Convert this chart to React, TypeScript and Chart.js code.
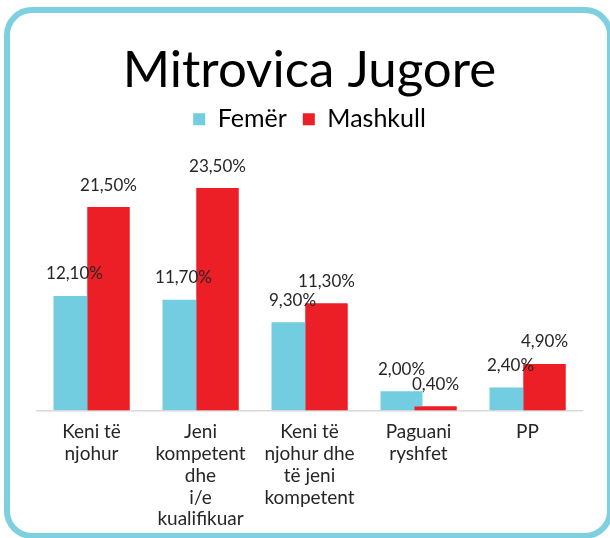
import React, { useEffect, useRef } from "react";
import { Chart, registerables } from "chart.js";

Chart.register(...registerables);

const TITLE = "Mitrovica Jugore";
const CATEGORIES: string[][] = [
  ["Keni të", "njohur"],
  ["Jeni", "kompetent", "dhe", "i/e", "kualifikuar"],
  ["Keni të", "njohur dhe", "të jeni", "kompetent"],
  ["Paguani", "ryshfet"],
  ["PP"],
];
const SERIES_NAMES = ["Femër", "Mashkull"];
const FEMER = [12.1, 11.7, 9.3, 2.0, 2.4];
const MASHKULL = [21.5, 23.5, 11.3, 0.4, 4.9];
const Y_MAX = 28.4;

const CYAN = "#72CDE0";
const RED = "#EC1F26";
const FONT = "Lato";
const CANVAS_H = 541;

export default function App() {
  const ref = useRef<HTMLCanvasElement | null>(null);

  useEffect(() => {
    if (!ref.current) return;
    const overlayPlugin = {
      id: "overlay",
      afterDatasetsDraw(chart: any) {
        const ctx = chart.ctx;
        // red bars drawn above the overlapping cyan ones
        chart.getDatasetMeta(1).data.forEach((el: any) => el.draw(ctx));
        ctx.save();
        ctx.font = `17px ${FONT}`;
        ctx.fillStyle = "#262626";
        ctx.textAlign = "center";
        ctx.textBaseline = "middle";
        [0, 1].forEach((di) => {
          const meta = chart.getDatasetMeta(di);
          const vals = chart.data.datasets[di].data as number[];
          meta.data.forEach((el: any, i: number) => {
            const v = vals[i];
            if (v == null) return;
            const txt = v.toFixed(2).replace(".", ",") + "%";
            ctx.fillText(txt, el.x, el.y - 22);
          });
        });
        ctx.restore();
      },
    };
    const chart = new Chart(ref.current, {
      type: "bar",
      data: {
        labels: CATEGORIES,
        datasets: [
          {
            label: SERIES_NAMES[0],
            data: FEMER,
            backgroundColor: CYAN,
            categoryPercentage: 0.624,
            barPercentage: 1.235,
          },
          {
            label: SERIES_NAMES[1],
            data: MASHKULL,
            backgroundColor: RED,
            categoryPercentage: 0.624,
            barPercentage: 1.235,
          },
        ],
      },
      options: {
        responsive: false,
        animation: false,
        layout: { padding: { left: 37, right: 28, top: 0, bottom: 0 } },
        plugins: {
          title: {
            display: true,
            text: TITLE,
            color: "#000",
            font: { family: FONT, size: 51, weight: "normal", lineHeight: 0.8 },
            padding: { top: 50, bottom: 0 },
          },
          legend: {
            display: true,
            position: "top",
            labels: {
              color: "#000",
              font: { family: FONT, size: 25 },
              boxWidth: 12,
              boxHeight: 12,
              padding: 16,
            },
          },
          tooltip: { enabled: false },
        },
        scales: {
          x: {
            type: "category",
            offset: true,
            grid: { display: false, drawTicks: false, tickLength: 0 },
            border: { display: true, color: "#D9D9D9", width: 1.5 },
            ticks: {
              color: "#262626",
              font: { family: FONT, size: 19, lineHeight: "21.75px" },
              padding: 11,
              maxRotation: 0,
              autoSkip: false,
            },
          },
          y: {
            display: false,
            min: 0,
            max: Y_MAX,
            grid: { display: false },
          },
        },
      },
      plugins: [overlayPlugin],
    });
    return () => chart.destroy();
  }, []);

  return (
    <div
      style={{
        position: "fixed",
        left: 0,
        top: 0,
        width: 610,
        height: 538,
        overflow: "hidden",
        background: "#fff",
      }}
    >
      <canvas
        ref={ref}
        width={610}
        height={CANVAS_H}
        style={{ position: "absolute", left: 0, top: 0 }}
      />
      <div
        style={{
          position: "absolute",
          left: 4,
          top: 7,
          width: 609,
          height: 532,
          boxSizing: "border-box",
          border: "6px solid #7ED0E1",
          borderRadius: 28,
          pointerEvents: "none",
        }}
      />
    </div>
  );
}
